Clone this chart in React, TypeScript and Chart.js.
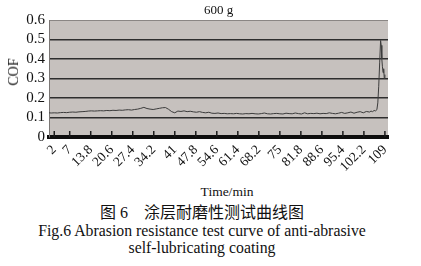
import React, { useEffect, useRef } from "react";
import { Chart, registerables } from "chart.js";

Chart.register(...registerables);

const chartTitle = "600 g";
const yAxisLabel = "COF";
const xAxisLabel = "Time/min";
const captionCn = "图 6\u2003涂层耐磨性测试曲线图";
const captionEn1 = "Fig.6 Abrasion resistance test curve of anti-abrasive";
const captionEn2 = "self-lubricating coating";

const xTickValues = [2, 7, 13.8, 20.6, 27.4, 34.2, 41, 47.8, 54.6, 61.4, 68.2, 75, 81.8, 88.6, 95.4, 102.2, 109];
const xTickLabels = ["2", "7", "13.8", "20.6", "27.4", "34.2", "41", "47.8", "54.6", "61.4", "68.2", "75", "81.8", "88.6", "95.4", "102.2", "109"];
const yTickValues = [0, 0.1, 0.2, 0.3, 0.4, 0.5, 0.6];

const timeMin = [
  0.3, 1, 2, 3, 4, 5, 6, 7, 8, 9, 10, 11, 12, 13, 14, 15, 16, 17, 18, 19,
  20, 21, 22, 23, 24, 25, 26, 27, 28, 29, 30, 31, 32, 33, 34, 35, 36, 37, 38, 39,
  40, 41, 42, 43, 44, 45, 46, 47, 48, 49, 50, 51, 52, 53, 54, 55, 56, 57, 58, 59,
  60, 61, 62, 63, 64, 65, 66, 67, 68, 69, 70, 71, 72, 73, 74, 75, 76, 77, 78, 79,
  80, 81, 82, 83, 84, 85, 86, 87, 88, 89, 90, 91, 92, 93, 94, 95, 96, 97, 98, 99,
  100, 101, 102, 103, 104, 104.5, 105, 105.5, 106, 106.4, 106.7, 107.0, 107.3, 107.6, 107.8,
  108.0, 108.2, 108.4, 108.6, 108.8, 109.0,
];

const cofValues = [
  0.124, 0.123, 0.124, 0.123, 0.125, 0.126, 0.125, 0.127, 0.128, 0.127, 0.129, 0.130, 0.131, 0.133, 0.134, 0.133, 0.134, 0.135, 0.134, 0.136,
  0.135, 0.137, 0.136, 0.138, 0.137, 0.139, 0.140, 0.138, 0.141, 0.143, 0.147, 0.152, 0.146, 0.143, 0.141, 0.144, 0.147, 0.150, 0.151, 0.142,
  0.130, 0.124, 0.133, 0.131, 0.134, 0.130, 0.132, 0.129, 0.127, 0.130, 0.126, 0.124, 0.127, 0.122, 0.121, 0.123, 0.120, 0.121, 0.119, 0.120,
  0.119, 0.121, 0.119, 0.118, 0.120, 0.119, 0.121, 0.119, 0.118, 0.120, 0.123, 0.119, 0.118, 0.120, 0.121, 0.119, 0.118, 0.122, 0.120, 0.119,
  0.123, 0.120, 0.118, 0.124, 0.119, 0.121, 0.120, 0.122, 0.119, 0.121, 0.120, 0.124, 0.121, 0.119, 0.122, 0.126, 0.121, 0.124, 0.128, 0.122,
  0.127, 0.130, 0.124, 0.131, 0.128, 0.133, 0.130, 0.136, 0.134, 0.140, 0.175, 0.260, 0.380, 0.495, 0.470,
  0.400, 0.360, 0.330, 0.350, 0.300, 0.320,
];

const serif = "'Liberation Serif', 'DejaVu Serif', serif";

const plotBgPlugin = {
  id: "plotBg",
  beforeDraw(chart: any) {
    const { ctx, chartArea } = chart;
    ctx.save();
    ctx.fillStyle = "#c6c1be";
    ctx.fillRect(chartArea.left, chartArea.top, chartArea.right - chartArea.left, chartArea.bottom - chartArea.top);
    ctx.restore();
  },
};

const innerTicksPlugin = {
  id: "innerTicks",
  afterDraw(chart: any) {
    const { ctx, chartArea } = chart;
    const xs = chart.scales.x;
    ctx.save();
    ctx.strokeStyle = "#1a1a1a";
    ctx.lineWidth = 1.5;
    xs.ticks.forEach((t: any) => {
      const px = xs.getPixelForValue(t.value);
      ctx.beginPath();
      ctx.moveTo(px, chartArea.bottom - 6);
      ctx.lineTo(px, chartArea.bottom);
      ctx.stroke();
    });
    ctx.restore();
  },
};

function CofChart() {
  const ref = useRef<HTMLCanvasElement | null>(null);
  useEffect(() => {
    if (!ref.current) return;
    const chart = new Chart(ref.current, {
      type: "line",
      data: {
        datasets: [
          {
            data: timeMin.map((t, i) => ({ x: t, y: cofValues[i] })),
            borderColor: "#3c3c3c",
            borderWidth: 1,
            pointRadius: 0,
            tension: 0,
            fill: false,
          },
        ],
      },
      options: {
        animation: false,
        responsive: true,
        maintainAspectRatio: false,
        layout: { padding: { left: 0, right: 33, top: 0, bottom: 0 } },
        plugins: {
          legend: { display: false },
          tooltip: { enabled: false },
          title: {
            display: true,
            text: chartTitle,
            fullSize: false,
            color: "#111",
            font: { family: serif, size: 13, weight: "normal", lineHeight: 1.1 },
            padding: { top: 3, bottom: 2.7 },
          },
        },
        scales: {
          x: {
            type: "linear",
            min: 0.3,
            max: 110,
            afterBuildTicks: (scale: any) => {
              scale.ticks = xTickValues.map((v) => ({ value: v }));
            },
            afterFit: (scale: any) => {
              scale.height = 43;
            },
            grid: { display: false, drawTicks: false },
            border: { display: true, color: "#0d0d0d", width: 4 },
            ticks: {
              autoSkip: false,
              minRotation: 45,
              maxRotation: 45,
              padding: 5,
              color: "#111",
              font: { family: serif, size: 13.5 },
              callback: (_v: any, i: number) => xTickLabels[i],
            },
          },
          y: {
            type: "linear",
            min: 0,
            max: 0.6,
            afterBuildTicks: (scale: any) => {
              scale.ticks = yTickValues.map((v) => ({ value: v }));
            },
            afterFit: (scale: any) => {
              scale.width = 49;
            },
            grid: {
              drawTicks: false,
              color: (c: any) => (c.tick && c.tick.value >= 0.6 ? "#8a8684" : "#2e2e2e"),
              lineWidth: (c: any) => (c.tick && c.tick.value >= 0.6 ? 1 : 1.5),
            },
            border: { display: true, color: "#7a7674", width: 1 },
            ticks: {
              autoSkip: false,
              padding: 4,
              color: "#111",
              font: { family: serif, size: 15 },
              callback: (v: any) => String(Math.round(Number(v) * 10) / 10),
            },
          },
        },
      },
      plugins: [plotBgPlugin, innerTicksPlugin],
    } as any);
    return () => chart.destroy();
  }, []);
  return <canvas ref={ref} />;
}

export default function App() {
  const abs: React.CSSProperties = { position: "absolute", whiteSpace: "nowrap" };
  return (
    <div style={{ position: "absolute", left: 0, top: 0, width: 421, height: 266, background: "#fff", overflow: "hidden" }}>
      <div style={{ position: "absolute", left: 0, top: 0, width: 421, height: 180 }}>
        <CofChart />
      </div>
      <div style={{ ...abs, left: 14, top: 72, transform: "translate(-50%, -50%) rotate(-90deg)", fontFamily: serif, fontSize: 14, color: "#111" }}>
        {yAxisLabel}
      </div>
      <div style={{ ...abs, left: 227, top: 192, transform: "translate(-50%, -50%)", fontFamily: serif, fontSize: 13.5, color: "#111" }}>
        {xAxisLabel}
      </div>
      <div style={{ ...abs, left: 0, width: 404, top: 213, transform: "translateY(-50%)", textAlign: "center", fontFamily: "'Liberation Serif', 'Noto Sans CJK SC', serif", fontSize: 16, color: "#111", lineHeight: "18px" }}>
        {captionCn}
      </div>
      <div style={{ ...abs, left: 0, width: 404, top: 231, transform: "translateY(-50%)", textAlign: "center", fontFamily: serif, fontSize: 15.8, color: "#111", lineHeight: "18px" }}>
        {captionEn1}
      </div>
      <div style={{ ...abs, left: 0, width: 404, top: 248, transform: "translateY(-50%)", textAlign: "center", fontFamily: serif, fontSize: 15.8, color: "#111", lineHeight: "18px" }}>
        {captionEn2}
      </div>
    </div>
  );
}
